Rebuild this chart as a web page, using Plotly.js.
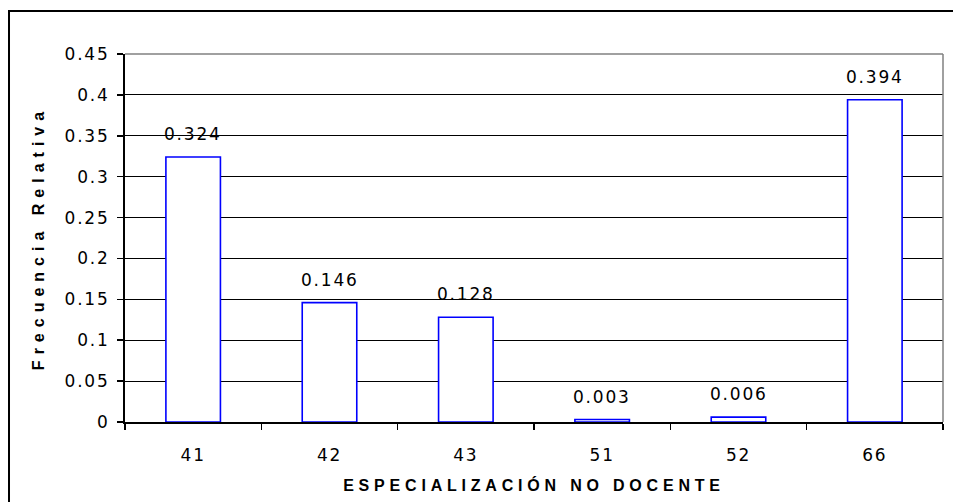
<!DOCTYPE html>
<html><head><meta charset="utf-8">
<script src="https://cdn.plot.ly/plotly-3.0.1.min.js"></script>
<style>
html,body{margin:0;padding:0;background:#fff;}
#chart{width:953px;height:502px;}
.xtick text, .ytick text, .annotation-text {letter-spacing:1.8px;}
.xtitle{letter-spacing:4.8px;}
.ytitle{letter-spacing:6px;}
</style></head>
<body><div id="chart"></div>
<script>
const categories = ['41', '42', '43', '51', '52', '66'];
const frecuencia = [0.324, 0.146, 0.128, 0.003, 0.006, 0.394];
const valueLabels = ['0.324', '0.146', '0.128', '0.003', '0.006', '0.394'];
const yTickValues = [0, 0.05, 0.1, 0.15, 0.2, 0.25, 0.3, 0.35, 0.4, 0.45];
const yTickLabels = ['0', '0.05', '0.1', '0.15', '0.2', '0.25', '0.3', '0.35', '0.4', '0.45'];
const xTitle = 'ESPECIALIZACIÓN NO DOCENTE';
const yTitle = 'Frecuencia Relativa';

const tickFont = {family: '"DejaVu Sans", Verdana, sans-serif', size: 17, color: '#000'};
const titleFont = {family: '"Liberation Sans", Arial, sans-serif', size: 16, color: '#000', weight: 'bold'};

const trace = {
  type: 'bar',
  x: categories,
  y: frecuencia,
  marker: {color: '#ffffff', line: {color: '#0000ff', width: 1.6}},
  hoverinfo: 'none'
};

// annotations placed by category index on the category axis
const annotations = categories.map((c, i) => ({
  x: i, y: frecuencia[i], xref: 'x', yref: 'y',
  text: valueLabels[i], showarrow: false,
  yanchor: 'bottom', yshift: 11,
  font: tickFont
}));

const layout = {
  width: 953, height: 502,
  margin: {l: 125, r: 10, t: 54, b: 80},
  paper_bgcolor: '#fff', plot_bgcolor: '#fff',
  showlegend: false,
  bargap: 0.6,
  font: tickFont,
  xaxis: {
    type: 'category',
    categoryorder: 'array', categoryarray: categories,
    range: [-0.5, categories.length - 0.5],
    tickson: 'boundaries',
    ticks: 'outside', ticklen: 6, tickwidth: 1.5, tickcolor: '#000',
    showline: true, linecolor: '#000', linewidth: 2,
    showgrid: false,
    tickangle: 0,
    tickfont: tickFont,
    ticklabelstandoff: 17,
    title: {text: xTitle, font: titleFont, standoff: 15},
    automargin: false
  },
  yaxis: {
    range: [0, 0.45],
    tickvals: yTickValues, ticktext: yTickLabels,
    ticks: 'outside', ticklen: 6, tickwidth: 1.5, tickcolor: '#000',
    showline: true, linecolor: '#000', linewidth: 2,
    showgrid: true, gridcolor: '#000', gridwidth: 1.2,
    zeroline: false,
    tickfont: tickFont,
    ticklabelstandoff: 4,
    title: {text: yTitle, font: titleFont, standoff: 16},
    automargin: false
  },
  annotations: annotations,
  shapes: [
    {type: 'line', xref: 'paper', yref: 'paper', x0: 0, x1: 1, y0: 1, y1: 1, line: {color: '#808080', width: 1.5}},
    {type: 'line', xref: 'paper', yref: 'paper', x0: 1, x1: 1, y0: 0, y1: 1, line: {color: '#808080', width: 1.5}},
    {type: 'rect', xref: 'paper', yref: 'paper', x0: -0.1418, x1: 1.3, y0: -0.5, y1: 1.1168, line: {color: '#000', width: 2}, fillcolor: 'rgba(0,0,0,0)'}
  ]
};

Plotly.newPlot('chart', [trace], layout, {staticPlot: true, displayModeBar: false});
</script>
</body></html>
